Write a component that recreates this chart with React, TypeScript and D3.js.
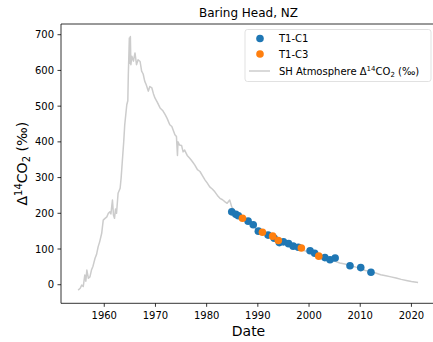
import React from "react";
import * as d3 from "d3";

const atmoYears = [1954.9,1955.3,1955.6,1955.9,1956.2,1956.4,1956.6,1956.9,1957.2,1957.5,1957.8,1958.2,1958.5,1958.8,1959.1,1959.5,1959.8,1960.1,1960.5,1960.8,1961.1,1961.3,1961.6,1961.8,1962.0,1962.2,1962.4,1962.7,1963.1,1963.3,1963.5,1963.8,1964.0,1964.4,1964.6,1964.7,1964.9,1965.0,1965.1,1965.2,1965.4,1965.7,1966.0,1966.3,1966.6,1967.0,1967.3,1967.6,1967.9,1968.2,1968.6,1968.9,1969.3,1969.6,1969.9,1970.4,1970.9,1971.4,1971.9,1972.3,1972.8,1973.2,1973.8,1974.1,1974.3,1974.4,1974.7,1975.1,1975.4,1975.7,1976.2,1976.7,1977.2,1977.7,1978.2,1978.7,1979.2,1979.7,1980.1,1980.6,1981.1,1981.6,1982.1,1982.6,1983.1,1983.6,1984.0,1984.5,1984.9,1985.5,1986.0,1987,1988,1989,1990,1991,1992,1993,1994,1995,1996,1997,1998,1999,2000,2001,2002,2003,2004,2005,2006,2007,2008,2009,2010,2011,2012,2013,2014,2015,2016,2017,2018,2019,2020,2021.3];
const atmoValues = [-15,-10,-1,-5,27,10,41,18,22,41,52,74,85,106,120,144,181,185,190,200,204,198,237,195,186,212,200,256,270,300,340,400,448,504,515,588,691,620,695,616,640,626,649,616,630,625,598,590,570,560,542,555,551,535,523,510,495,488,476,465,448,443,420,415,362,400,391,390,372,377,362,354,345,335,322,317,305,293,285,274,268,260,250,242,238,232,228,237,218,205,195,185,178,165,152,143,136,128,121,116,110,104,100,96,91,85,80,74,70,66,61,58,54,50,45,40,37,33,28,25,22,19,15,12,9,6];

const c1Years = [1984.9,1985.7,1986.2,1988.1,1989.1,1990.1,1992.0,1993.2,1994.2,1995.0,1996.0,1996.9,1997.9,2000.2,2001.1,2003.1,2004.1,2005.1,2008.0,2010.1,2012.1];
const c1Values = [204,197,193,178,168,150,139,130,118,120,115,108,105,95,88,76,70,75,53,48,35];

const c3Years = [1987.0,1990.9,1992.9,1994.0,1998.5,2001.9];
const c3Values = [186,147,136,124,103,80];

const xTicks = [1960,1970,1980,1990,2000,2010,2020];
const yTicks = [0,100,200,300,400,500,600,700];

const FONT = "DejaVu Sans, sans-serif";

export default function App() {
  const W = 433, H = 342;
  const left = 61, right = 436, top = 24, bottom = 303.3;
  const x = d3.scaleLinear().domain([1951.55, 2024.8]).range([left, right]);
  const y = d3.scaleLinear().domain([-52, 730]).range([bottom, top]);
  const atmo = atmoYears.map((yr, i) => [yr, atmoValues[i]] as [number, number]);
  const line = d3.line<[number, number]>().x(d => x(d[0])).y(d => y(d[1]));
  const blue = "#1f77b4", orange = "#ff7f0e", grey = "#cccccc";
  const r = 3.8;
  return (
    <svg width={W} height={H} style={{ position: "absolute", left: 0, top: 0 }} fontFamily={FONT}>
      <rect x={0} y={0} width={W} height={H} fill="#fff" />
      <text x={(left + right) / 2} y={17} textAnchor="middle" fontSize={12} fill="#000">Baring Head, NZ</text>
      <path d={line(atmo) || ""} fill="none" stroke={grey} strokeWidth={1.5} strokeLinejoin="round" />
      {c1Years.map((yr, i) => (
        <circle key={"b" + i} cx={x(yr)} cy={y(c1Values[i])} r={r} fill={blue} />
      ))}
      {c3Years.map((yr, i) => (
        <circle key={"o" + i} cx={x(yr)} cy={y(c3Values[i])} r={r} fill={orange} />
      ))}
      {/* spines */}
      <line x1={left} x2={left} y1={top} y2={bottom} stroke="#000" strokeWidth={0.8} />
      <line x1={left} x2={W} y1={bottom} y2={bottom} stroke="#000" strokeWidth={0.8} />
      <line x1={left} x2={W} y1={top} y2={top} stroke="#000" strokeWidth={0.8} />
      {xTicks.map(t => (
        <g key={"x" + t}>
          <line x1={x(t)} x2={x(t)} y1={bottom} y2={bottom + 3.5} stroke="#000" strokeWidth={0.8} />
          <text x={x(t)} y={bottom + 16} textAnchor="middle" fontSize={10} fill="#000">{t}</text>
        </g>
      ))}
      {yTicks.map(t => (
        <g key={"y" + t}>
          <line x1={left - 3.5} x2={left} y1={y(t)} y2={y(t)} stroke="#000" strokeWidth={0.8} />
          <text x={left - 7} y={y(t) + 3.6} textAnchor="end" fontSize={10} fill="#000">{t}</text>
        </g>
      ))}
      <text x={(left + right) / 2} y={336} textAnchor="middle" fontSize={14} fill="#000">Date</text>
      <text transform={`translate(27,${(top + bottom) / 2}) rotate(-90)`} textAnchor="middle" fontSize={14} fill="#000">
        Δ<tspan fontSize={10} dy={-5}>14</tspan><tspan dy={5}>CO</tspan><tspan fontSize={10} dy={3}>2</tspan><tspan dy={-3}> (‰)</tspan>
      </text>
      {/* legend */}
      <rect x={245} y={29.5} width={186} height={52} rx={2.5} fill="#fff" fillOpacity={0.8} stroke="#d9d9d9" strokeWidth={0.8} />
      <circle cx={260} cy={38.5} r={r} fill={blue} />
      <text x={279} y={42} fontSize={10} fill="#000">T1-C1</text>
      <circle cx={260} cy={54} r={r} fill={orange} />
      <text x={279} y={57.5} fontSize={10} fill="#000">T1-C3</text>
      <line x1={249} x2={270} y1={71} y2={71} stroke={grey} strokeWidth={1.5} />
      <text x={279} y={74.5} fontSize={10} fill="#000">
        SH Atmosphere Δ<tspan fontSize={7} dy={-4}>14</tspan><tspan dy={4}>CO</tspan><tspan fontSize={7} dy={2}>2</tspan><tspan dy={-2}> (‰)</tspan>
      </text>
    </svg>
  );
}
